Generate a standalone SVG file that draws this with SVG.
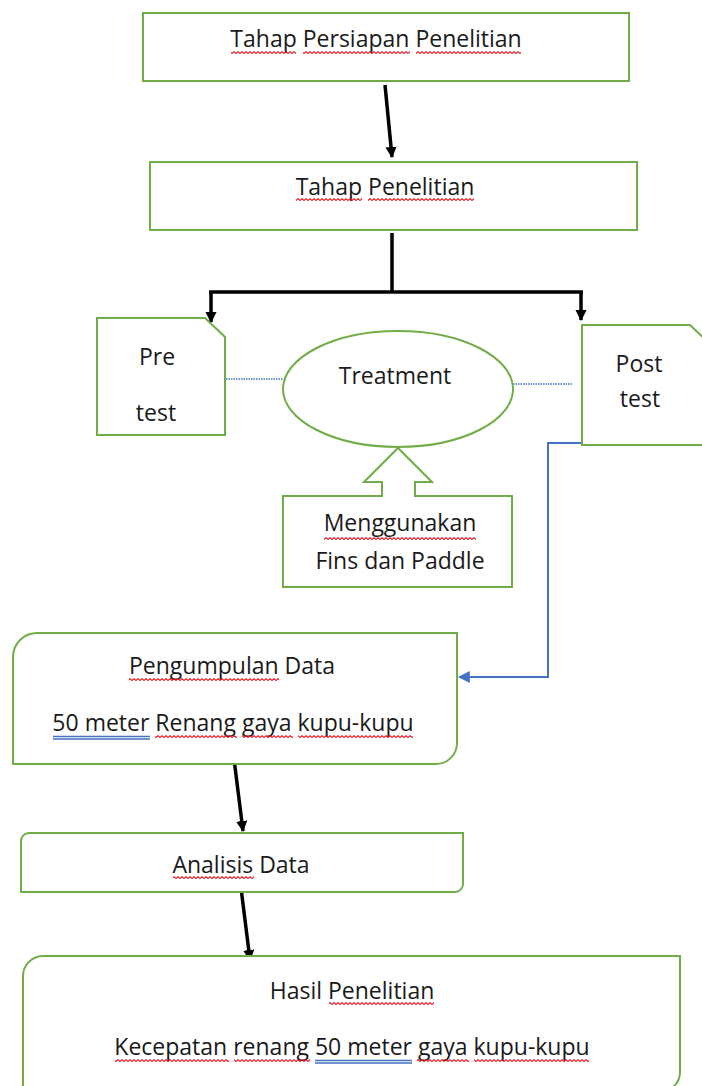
<svg xmlns="http://www.w3.org/2000/svg" width="702" height="1086" viewBox="0 0 702 1086">
<style>
.box{fill:#ffffff;stroke:#70AD47;stroke-width:2}
.t{font-family:"Open Sans","DejaVu Sans",sans-serif;font-size:23px;fill:#1a1a1a;text-anchor:middle}
.blk{stroke:#000;stroke-width:3.5;fill:none}
.dot{stroke:#4472C4;stroke-width:1.6;stroke-dasharray:1.5 1;fill:none}
.blue{stroke:#4472C4;stroke-width:2;fill:none}
.sq{fill:url(#wv)}
.dbl{stroke:#4472C4;stroke-width:1.3;fill:none}
</style>
<defs>
<pattern id="wv" width="4" height="3" patternUnits="userSpaceOnUse">
<path d="M-2,0.7 L0,2.5 L2,0.7 L4,2.5 L6,0.7" fill="none" stroke="#e8141c" stroke-width="1.1"/>
</pattern>
<marker id="ah" viewBox="0 0 10 10" markerWidth="3.2" markerHeight="3.2" refX="9" refY="5" orient="auto" markerUnits="strokeWidth">
<path d="M0,0 L10,5 L0,10 z" fill="#000"/>
</marker>
<marker id="ahb" viewBox="0 0 10 10" markerWidth="6" markerHeight="6" refX="9" refY="5" orient="auto" markerUnits="strokeWidth">
<path d="M0,0 L10,5 L0,10 z" fill="#4472C4"/>
</marker>
</defs>
<rect width="702" height="1086" fill="#ffffff"/>

<g id="connectors">
<line class="blk" x1="385" y1="85" x2="392" y2="157" marker-end="url(#ah)"/>
<path class="blk" d="M392,233 V292 M209,292 H583"/>
<line class="blk" x1="211" y1="292" x2="211" y2="322" marker-end="url(#ah)"/>
<line class="blk" x1="581" y1="292" x2="581" y2="320" marker-end="url(#ah)"/>
<line class="dot" x1="226" y1="379" x2="283" y2="379"/>
<line class="dot" x1="513" y1="384" x2="572" y2="384"/>
<path class="blue" d="M643,443 H548 V677 H459" marker-end="url(#ahb)"/>
<line class="blk" x1="234" y1="759" x2="243" y2="831" marker-end="url(#ah)"/>
<line class="blk" x1="241" y1="888" x2="250" y2="960" marker-end="url(#ah)"/>
</g>

<g id="n-persiapan">
<rect class="box" x="143" y="13" width="486" height="68"/>
<text class="t" x="376" y="47"><tspan>Tahap</tspan> <tspan>Persiapan</tspan> <tspan>Penelitian</tspan></text>
<rect class="sq" x="231" y="51" width="65" height="3"/>
<rect class="sq" x="303" y="51" width="107" height="3"/>
<rect class="sq" x="416" y="51" width="105" height="3"/>
</g>

<g id="n-penelitian">
<rect class="box" x="150" y="162" width="487" height="68"/>
<text class="t" x="385" y="195"><tspan>Tahap</tspan> <tspan>Penelitian</tspan></text>
<rect class="sq" x="296" y="198" width="66" height="3"/>
<rect class="sq" x="368" y="198" width="106" height="3"/>
</g>

<g id="n-pretest">
<polygon class="box" points="97,318 205,318 225,337 225,435 97,435"/>
<text class="t" x="157" y="365">Pre</text>
<text class="t" x="156" y="421">test</text>
</g>

<g id="n-treatment">
<ellipse class="box" cx="398" cy="389" rx="115" ry="58"/>
<text class="t" x="395" y="384">Treatment</text>
</g>

<g id="n-posttest">
<polygon class="box" points="582,325 690,325 712,346 712,445 582,445"/>
<text class="t" x="639" y="372">Post</text>
<text class="t" x="640" y="407">test</text>
</g>

<g id="n-menggunakan">
<path class="box" d="M283,496 H382 V482 H364 L398,448 L432,482 H415 V496 H512 V587 H283 Z"/>
<text class="t" x="400" y="531"><tspan>Menggunakan</tspan></text>
<rect class="sq" x="324" y="537" width="152" height="3"/>
<text class="t" x="400" y="569">Fins dan Paddle</text>
</g>

<g id="n-pengumpulan">
<path class="box" d="M37,633 H457 V743 A21,21 0 0 1 436,764 H13 V657 A24,24 0 0 1 37,633 Z"/>
<text class="t" x="232" y="674"><tspan>Pengumpulan</tspan> Data</text>
<rect class="sq" x="129" y="678" width="150" height="3"/>
<text class="t" x="233" y="731"><tspan>50 meter</tspan> <tspan>Renang</tspan> <tspan>gaya</tspan> <tspan>kupu-kupu</tspan></text>
<path class="dbl" d="M53,736.5 H150 M53,739 H150"/>
<rect class="sq" x="155" y="735" width="82" height="3"/>
<rect class="sq" x="242" y="735" width="51" height="3"/>
<rect class="sq" x="298" y="735" width="115" height="3"/>
</g>

<g id="n-analisis">
<path class="box" d="M29,833 H463 V884 A8,8 0 0 1 455,892 H21 V841 A8,8 0 0 1 29,833 Z"/>
<text class="t" x="241" y="873"><tspan>Analisis</tspan> Data</text>
<rect class="sq" x="173" y="876" width="81" height="3"/>
</g>

<g id="n-hasil">
<path class="box" d="M43,956 H680 V1072 A20,20 0 0 1 660,1092 H23 V976 A20,20 0 0 1 43,956 Z"/>
<text class="t" x="352" y="999">Hasil <tspan>Penelitian</tspan></text>
<rect class="sq" x="329" y="1002" width="105" height="3"/>
<text class="t" x="352" y="1055"><tspan>Kecepatan</tspan> <tspan>renang</tspan> <tspan>50 meter</tspan> <tspan>gaya</tspan> <tspan>kupu-kupu</tspan></text>
<rect class="sq" x="115" y="1059" width="114" height="3"/>
<rect class="sq" x="234" y="1059" width="76" height="3"/>
<path class="dbl" d="M315,1060.5 H412 M315,1063 H412"/>
<rect class="sq" x="417" y="1059" width="52" height="3"/>
<rect class="sq" x="474" y="1059" width="115" height="3"/>
</g>
</svg>
